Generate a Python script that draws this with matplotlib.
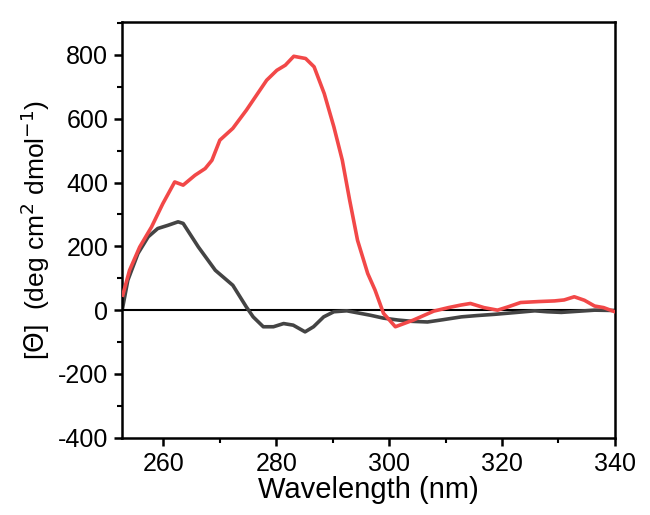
import matplotlib.pyplot as plt
from matplotlib.ticker import MultipleLocator

plt.rcParams['font.family'] = ['Liberation Sans', 'DejaVu Sans']
plt.rcParams['axes.unicode_minus'] = False

#%% Data
wl_red = [252.8, 254.0, 255.8, 257.9, 259.9, 262.0, 263.5, 265.6, 267.4, 268.6, 270.0,
          272.3, 274.7, 276.5, 278.3, 280.1, 281.6, 283.1, 285.2, 286.7, 288.5, 290.2,
          291.7, 293.0, 294.4, 296.2, 297.5, 299.0, 301.1, 304.3, 307.9, 310.5, 312.7,
          314.4, 316.8, 319.2, 321.0, 323.3, 326.5, 329.3, 331.0, 332.8, 334.6, 336.4,
          338.0, 340.0]
cd_red = [47, 125, 198, 261, 334, 402, 392, 423, 444, 470, 533,
          570, 627, 674, 721, 752, 768, 796, 789, 763, 679, 575,
          470, 345, 219, 115, 63, -10, -52, -31, -3, 8, 16,
          21, 8, 0, 10, 24, 27, 29, 32, 42, 31, 13,
          8, -5]

wl_black = [252.8, 253.7, 255.5, 257.3, 259.0, 260.8, 262.6, 263.5, 266.2, 269.2, 272.3,
            274.7, 275.9, 277.7, 279.5, 281.3, 283.0, 285.1, 286.6, 288.4, 290.2, 292.5,
            294.9, 296.7, 299.0, 301.6, 304.0, 306.8, 309.5, 312.8, 315.5, 318.7, 322.0,
            325.8, 328.0, 330.5, 333.0, 336.4, 340.0]
cd_black = [10, 94, 178, 230, 256, 266, 277, 272, 198, 125, 78,
            10, -21, -52, -52, -42, -47, -68, -52, -21, -5, -2,
            -10, -16, -25, -31, -35, -37, -30, -21, -17, -13, -8,
            -2, -5, -7, -4, 0, -1]

#%% Plot
fig = plt.figure(figsize=(6.5, 5.15), dpi=100)
ax = fig.add_axes([0.188, 0.150, 0.758, 0.807])

ax.axhline(0, color='black', lw=1.5, zorder=1)
ax.plot(wl_black, cd_black, color='#444444', lw=2.6, zorder=2)
ax.plot(wl_red, cd_red, color='#f24848', lw=2.6, zorder=3)

ax.set_xlim(252.7, 340)
ax.set_ylim(-400, 903)
ax.xaxis.set_major_locator(MultipleLocator(20))
ax.xaxis.set_minor_locator(MultipleLocator(10))
ax.yaxis.set_major_locator(MultipleLocator(200))
ax.yaxis.set_minor_locator(MultipleLocator(100))
ax.tick_params(which='major', length=6, width=1.8, labelsize=18, pad=4)
ax.tick_params(which='minor', length=3.5, width=1.5)
ax.tick_params(axis='x', which='both', top=False)
ax.tick_params(axis='y', which='both', right=False)
for s in ax.spines.values():
    s.set_linewidth(1.8)

ax.set_xlabel("Wavelength (nm)", fontsize=21, labelpad=0)
ax.set_ylabel(r"[$\Theta$]  (deg cm$^2$ dmol$^{-1}$)", fontsize=19, labelpad=4)

fig.savefig('out.png', dpi=100)
